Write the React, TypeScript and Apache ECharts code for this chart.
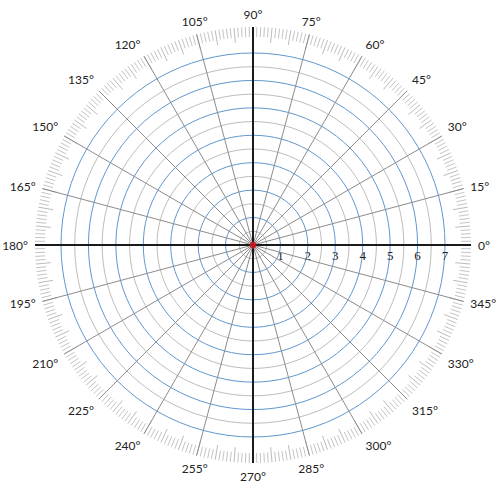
import React, { useEffect, useRef } from 'react';
import * as echarts from 'echarts';

// Grid values
const radiusMax = 7;
const radiusStep = 0.5;
const radiusLabels = [1, 2, 3, 4, 5, 6, 7];
const spokeStep = 15;
const axisStep = 90;
const tickMajorStep = 5;
const tickMinorSplit = 5;
const angleLabelStep = 15;
const originPoint = [[0, 0]];

export default function App() {
  const ref = useRef<HTMLDivElement>(null);
  useEffect(() => {
    const chart = echarts.init(ref.current!, null, { renderer: 'svg' });
    const center = [253, 245];
    const outerR = 218;
    const ringR = 192;
    const baseAngle = {
      type: 'value',
      min: 0,
      max: 360,
      startAngle: 0,
      clockwise: false,
    };
    const hiddenRadius = { type: 'value', min: 0, max: 1, show: false };
    chart.setOption({
      animation: false,
      polar: [
        { center, radius: outerR },
        { center, radius: outerR },
        { center, radius: ringR },
        { center, radius: outerR },
      ],
      angleAxis: [
        {
          ...baseAngle,
          polarIndex: 0,
          interval: spokeStep,
          axisLine: { show: false },
          axisTick: { show: false },
          axisLabel: { show: false },
          splitLine: { show: true, lineStyle: { color: '#8c8c8c', width: 1 } },
          z: 1,
        },
        {
          ...baseAngle,
          polarIndex: 1,
          interval: axisStep,
          axisLine: { show: false },
          axisTick: { show: false },
          axisLabel: { show: false },
          splitLine: { show: true, lineStyle: { color: '#1a1a1a', width: 2 } },
          z: 3,
        },
        {
          ...baseAngle,
          polarIndex: 2,
          interval: spokeStep,
          axisLine: { show: false },
          axisTick: { show: false },
          axisLabel: { show: false },
          splitLine: { show: false },
        },
        {
          ...baseAngle,
          polarIndex: 3,
          interval: tickMajorStep,
          axisLine: { show: false },
          axisTick: { show: true, inside: true, length: 15, lineStyle: { color: '#bcbcbc', width: 1 } },
          minorTick: { show: true, splitNumber: tickMinorSplit, length: 10, lineStyle: { color: '#c4c4c4', width: 1 } },
          axisLabel: {
            show: true,
            margin: 7,
            color: '#222',
            fontFamily: 'Lato',
            fontSize: 12,
            formatter: (v: number) => (v % angleLabelStep === 0 && v < 360 ? v + '°' : ''),
          },
          splitLine: { show: false },
        },
      ],
      radiusAxis: [
        { ...hiddenRadius, polarIndex: 0 },
        { ...hiddenRadius, polarIndex: 1 },
        {
          type: 'value',
          polarIndex: 2,
          min: 0,
          max: radiusMax,
          interval: radiusStep,
          axisLine: { show: false },
          axisTick: { show: false },
          axisLabel: {
            show: true,
            margin: -4,
            verticalAlign: 'top',
            align: 'center',
            color: '#222',
            fontFamily: 'Liberation Serif',
            fontSize: 13,
            formatter: (v: number) => (radiusLabels.includes(v) ? String(v) : ''),
          },
          splitLine: { show: true, lineStyle: { color: ['#5f98cf', '#bdbdbd'], width: 1 } },
          z: 0,
        },
        { ...hiddenRadius, polarIndex: 3 },
      ],
      series: [
        {
          type: 'scatter',
          coordinateSystem: 'polar',
          polarIndex: 2,
          data: originPoint,
          symbolSize: 7,
          itemStyle: { color: '#e0161b' },
          z: 10,
        },
      ],
    });
    return () => chart.dispose();
  }, []);
  return (
    <div
      ref={ref}
      style={{ position: 'fixed', left: 0, top: 0, width: 500, height: 491, background: '#fff' }}
    />
  );
}
